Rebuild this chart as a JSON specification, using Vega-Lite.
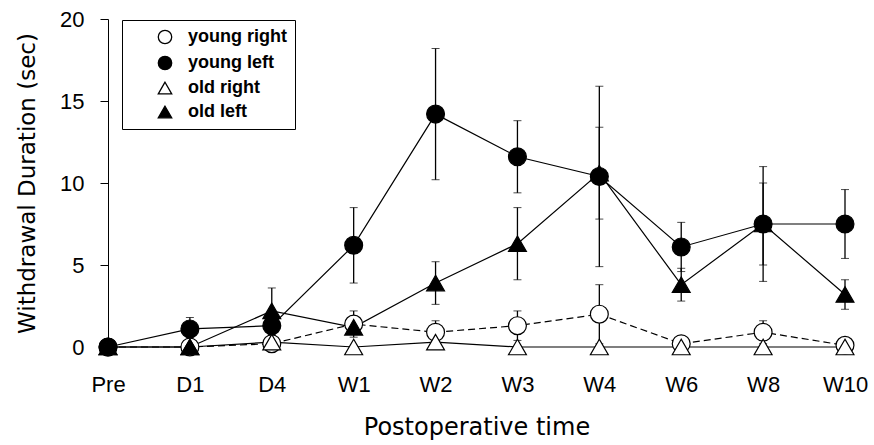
{
  "$schema": "https://vega.github.io/schema/vega-lite/v6.json",
  "width": 737,
  "height": 328,
  "autosize": {"type": "none"},
  "padding": {"left": 108, "top": 19, "right": 29, "bottom": 98},
  "background": "white",
  "config": {
    "view": {"stroke": null},
    "font": "Liberation Sans"
  },
  "data": {
    "values": [
      {"time": "Pre", "series": "young right", "mean": 0, "err": 0},
      {"time": "D1", "series": "young right", "mean": 0, "err": 0},
      {"time": "D4", "series": "young right", "mean": 0.2, "err": 0},
      {"time": "W1", "series": "young right", "mean": 1.4, "err": 0.8},
      {"time": "W2", "series": "young right", "mean": 0.9, "err": 0.7},
      {"time": "W3", "series": "young right", "mean": 1.3, "err": 0.9},
      {"time": "W4", "series": "young right", "mean": 2.0, "err": 1.8},
      {"time": "W6", "series": "young right", "mean": 0.2, "err": 0},
      {"time": "W8", "series": "young right", "mean": 0.9, "err": 0.7},
      {"time": "W10", "series": "young right", "mean": 0.1, "err": 0},
      {"time": "Pre", "series": "young left", "mean": 0, "err": 0},
      {"time": "D1", "series": "young left", "mean": 1.1, "err": 0.7},
      {"time": "D4", "series": "young left", "mean": 1.3, "err": 0.5},
      {"time": "W1", "series": "young left", "mean": 6.2, "err": 2.3},
      {"time": "W2", "series": "young left", "mean": 14.2, "err": 4.0},
      {"time": "W3", "series": "young left", "mean": 11.6, "err": 2.2},
      {"time": "W4", "series": "young left", "mean": 10.4, "err": 5.5},
      {"time": "W6", "series": "young left", "mean": 6.1, "err": 1.5},
      {"time": "W8", "series": "young left", "mean": 7.5, "err": 3.5},
      {"time": "W10", "series": "young left", "mean": 7.5, "err": 2.1},
      {"time": "Pre", "series": "old right", "mean": 0, "err": 0},
      {"time": "D1", "series": "old right", "mean": 0, "err": 0},
      {"time": "D4", "series": "old right", "mean": 0.3, "err": 0},
      {"time": "W1", "series": "old right", "mean": 0, "err": 0},
      {"time": "W2", "series": "old right", "mean": 0.3, "err": 0},
      {"time": "W3", "series": "old right", "mean": 0, "err": 0},
      {"time": "W4", "series": "old right", "mean": 0, "err": 0},
      {"time": "W6", "series": "old right", "mean": 0, "err": 0},
      {"time": "W8", "series": "old right", "mean": 0, "err": 0},
      {"time": "W10", "series": "old right", "mean": 0, "err": 0},
      {"time": "Pre", "series": "old left", "mean": 0, "err": 0},
      {"time": "D1", "series": "old left", "mean": 0, "err": 0},
      {"time": "D4", "series": "old left", "mean": 2.2, "err": 1.4},
      {"time": "W1", "series": "old left", "mean": 1.2, "err": 0.3},
      {"time": "W2", "series": "old left", "mean": 3.9, "err": 1.3},
      {"time": "W3", "series": "old left", "mean": 6.3, "err": 2.2},
      {"time": "W4", "series": "old left", "mean": 10.6, "err": 2.8},
      {"time": "W6", "series": "old left", "mean": 3.8, "err": 1.0},
      {"time": "W8", "series": "old left", "mean": 7.5, "err": 2.5},
      {"time": "W10", "series": "old left", "mean": 3.2, "err": 0.9}
    ]
  },
  "encoding": {
    "x": {
      "field": "time",
      "type": "ordinal",
      "sort": ["Pre", "D1", "D4", "W1", "W2", "W3", "W4", "W6", "W8", "W10"],
      "scale": {"type": "point", "padding": 0},
      "axis": {
        "title": "Postoperative time",
        "titleFont": "DejaVu Sans",
        "titleFontSize": 24,
        "titleFontWeight": "normal",
        "titleColor": "black",
        "titlePadding": 20,
        "labelAngle": 0,
        "labelFontSize": 22,
        "labelColor": "black",
        "labelPadding": 27,
        "domain": false,
        "ticks": false,
        "grid": false
      }
    },
    "y": {
      "field": "mean",
      "type": "quantitative",
      "scale": {"domain": [0, 20], "nice": false},
      "axis": {
        "title": "Withdrawal Duration (sec)",
        "titleFont": "DejaVu Sans",
        "titleFontSize": 23,
        "titleFontWeight": "normal",
        "titleColor": "black",
        "titlePadding": 20,
        "values": [0, 5, 10, 15, 20],
        "labelFontSize": 22,
        "labelColor": "black",
        "labelPadding": 16,
        "tickSize": 8,
        "tickColor": "black",
        "domainColor": "black",
        "grid": false
      }
    }
  },
  "layer": [
    {
      "transform": [{"filter": "datum.series !== 'young right'"}],
      "mark": {"type": "line", "color": "black", "strokeWidth": 1.2},
      "encoding": {
        "detail": {"field": "series", "type": "nominal"}
      }
    },
    {
      "transform": [{"filter": "datum.series === 'young right'"}],
      "mark": {"type": "line", "color": "black", "strokeWidth": 1.2, "strokeDash": [7, 4]},
      "encoding": {
        "detail": {"field": "series", "type": "nominal"}
      }
    },
    {
      "transform": [{"filter": "datum.err > 0"}],
      "mark": {"type": "errorbar", "color": "black", "ticks": {"size": 8, "color": "black", "strokeWidth": 1.3}, "rule": {"color": "black", "strokeWidth": 1.3}},
      "encoding": {
        "y": {"field": "mean", "type": "quantitative"},
        "yError": {"field": "err"}
      }
    },
    {
      "mark": {"type": "point", "strokeWidth": 1.2, "opacity": 1, "size": 320, "filled": true},
      "encoding": {
        "shape": {
          "field": "series",
          "type": "nominal",
          "scale": {"domain": ["young right", "young left", "old right", "old left"], "range": ["circle", "circle", "triangle-up", "triangle-up"]},
          "legend": {
            "orient": "none",
            "legendX": 14,
            "legendY": 1,
            "title": null,
            "strokeColor": "black",
            "fillColor": "white",
            "padding": 8,
            "symbolSize": 180,
            "symbolStrokeWidth": 1.3,
            "symbolOffset": 26,
            "labelOffset": 14,
            "labelFont": "Liberation Sans",
            "labelFontSize": 18,
            "labelFontWeight": "bold",
            "labelColor": "black",
            "rowPadding": 6
          }
        },
        "fill": {
          "field": "series",
          "type": "nominal",
          "scale": {"domain": ["young right", "young left", "old right", "old left"], "range": ["white", "black", "white", "black"]}
        },
        "stroke": {
          "field": "series",
          "type": "nominal",
          "scale": {"domain": ["young right", "young left", "old right", "old left"], "range": ["black", "black", "black", "black"]}
        }
      }
    }
  ]
}
